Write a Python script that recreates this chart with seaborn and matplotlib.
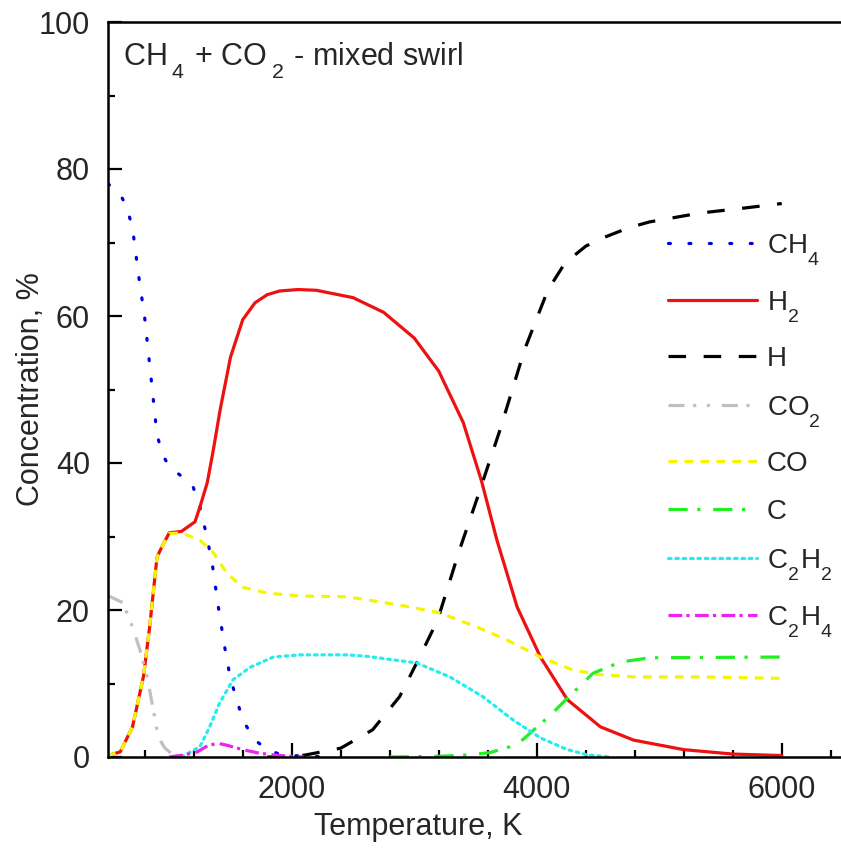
import matplotlib
matplotlib.use("Agg")
import matplotlib.pyplot as plt
from matplotlib.ticker import MultipleLocator
import seaborn as sns

# --- species concentration profiles vs temperature ---
t_ch4 = [500, 520, 600, 650, 700, 750, 800, 850, 900, 950, 1000, 1100, 1190, 1250, 1300,
         1350, 1400, 1450, 1500, 1550, 1600, 1700, 1800, 1900, 2000, 2300]
c_ch4 = [78.0, 77.7, 76.5, 75.0, 72.0, 65.5, 59.7, 51.8, 43.8, 41.0, 39.5, 38.2, 37.0, 34.0, 30.5,
         26.4, 20.5, 15.2, 10.6, 7.9, 5.0, 2.3, 1.0, 0.4, 0.2, 0.0]

t_h2 = [500, 520, 600, 700, 790, 840, 900, 940, 1000, 1100, 1210, 1250, 1310, 1360, 1415, 1500,
        1600, 1700, 1800, 1900, 2050, 2200, 2500, 2750, 3000, 3200, 3400, 3550, 3675, 3840,
        4030, 4250, 4520, 4790, 5200, 5600, 6000]
c_h2 = [0.0, 0.3, 0.7, 4.1, 11.0, 17.7, 27.2, 28.6, 30.5, 30.7, 32.0, 34.0, 37.3, 41.8, 47.2, 54.4,
        59.5, 61.8, 62.9, 63.4, 63.6, 63.5, 62.5, 60.5, 57.0, 52.5, 45.5, 37.5, 29.5, 20.4,
        13.6, 7.8, 4.1, 2.3, 1.0, 0.4, 0.2]

t_h = [1800, 2000, 2120, 2400, 2660, 2880, 3020, 3190, 3370, 3520, 3700, 3900, 4090, 4230, 4400,
       4520, 4750, 4920, 5330, 5700, 6000]
c_h = [0.0, 0.0, 0.3, 1.2, 3.7, 8.2, 12.8, 18.6, 28.2, 35.5, 44.5, 55.4, 63.5, 67.2, 69.5,
       70.5, 72.0, 72.8, 74.0, 74.7, 75.3]

t_co2 = [500, 520, 620, 700, 760, 820, 870, 910, 965, 1030, 1150]
c_co2 = [21.9, 21.8, 21.0, 17.7, 14.6, 10.9, 6.4, 2.7, 1.2, 0.3, 0.0]

t_co = [500, 520, 600, 700, 790, 840, 900, 940, 1000, 1100, 1250, 1360, 1470, 1600, 1800, 2070,
        2450, 2610, 2970, 3210, 3510, 3760, 4030, 4300, 4520, 4790, 5330, 6000]
c_co = [0.0, 0.3, 0.7, 4.1, 11.0, 17.7, 27.2, 28.6, 30.4, 30.5, 29.5, 27.8, 25.0, 23.1, 22.3, 21.9,
        21.8, 21.4, 20.4, 19.6, 17.7, 15.9, 13.6, 11.8, 11.2, 10.9, 10.9, 10.7]

t_c = [2800, 3210, 3450, 3620, 3780, 3890, 3970, 4100, 4250, 4460, 4680, 4920, 6000]
c_c = [0.0, 0.1, 0.3, 0.6, 1.4, 2.4, 3.6, 5.5, 8.0, 11.4, 12.9, 13.5, 13.6]

t_c2h2 = [1100, 1250, 1330, 1410, 1520, 1660, 1850, 2070, 2450, 2610, 3020, 3290, 3560, 3810,
          4030, 4250, 4410, 4600]
c_c2h2 = [0.0, 1.4, 4.1, 7.3, 10.5, 12.2, 13.6, 13.9, 13.9, 13.7, 12.8, 10.9, 8.2, 5.0,
          2.6, 1.0, 0.3, 0.0]

t_c2h4 = [1000, 1130, 1230, 1300, 1390, 1470, 1600, 1740, 1900, 2100]
c_c2h4 = [0.0, 0.3, 0.7, 1.4, 1.9, 1.6, 1.0, 0.5, 0.2, 0.0]

labels = [r"CH$_4$", r"H$_2$", "H", r"CO$_2$", "CO", "C", r"C$_2$H$_2$", r"C$_2$H$_4$"]
title = r"CH$\,{}_4$ + CO$\,{}_2$ - mixed swirl"
series = [(t_ch4, c_ch4), (t_h2, c_h2), (t_h, c_h), (t_co2, c_co2),
          (t_co, c_co), (t_c, c_c), (t_c2h2, c_c2h2), (t_c2h4, c_c2h4)]
colors = ["#0000dd", "#ee1111", "#000000", "#c0c0c0",
          "#f5f500", "#22ee22", "#22eeee", "#ee22ee"]
styles = [(0, (0.6, 5.8)), "-", (0, (5.5, 5.5)), (0, (5, 2.7, 1, 3.3, 1, 3.7)),
          (0, (2.7, 2.3)), (0, (6, 3, 1, 4)), (0, (0.8, 1.5)), (0, (4.3, 1.3, 1, 1.7))]
caps = ["round", "butt", "butt", "butt", "butt", "butt", "round", "butt"]

# deeper chemical-formula subscripts
try:
    from matplotlib import _mathtext
    _mathtext.FontConstantsBase.sub1 = 0.8
    _mathtext.FontConstantsBase.script_space = 0.15
except Exception:
    pass

sns.set_style("ticks")
plt.rcParams["font.family"] = ["Liberation Sans", "DejaVu Sans"]
plt.rcParams["mathtext.fontset"] = "custom"
plt.rcParams["mathtext.rm"] = "Liberation Sans"
plt.rcParams["mathtext.it"] = "Liberation Sans:italic"
plt.rcParams["mathtext.bf"] = "Liberation Sans:bold"

fig = plt.figure(figsize=(8.41, 8.5), dpi=100)
ax = fig.add_axes([108 / 841, 93 / 850, 735 / 841, 735 / 850])

for (tx, cy), lab, col, ls, cap in zip(series, labels, colors, styles, caps):
    sns.lineplot(x=tx, y=cy, ax=ax, color=col, linestyle=ls, linewidth=2.3,
                 label=lab, dash_capstyle=cap, sort=False)

ax.set_xlim(500, 6500)
ax.set_ylim(0, 100)
ax.xaxis.set_major_locator(MultipleLocator(2000))
ax.xaxis.set_minor_locator(MultipleLocator(400))
ax.yaxis.set_major_locator(MultipleLocator(20))
ax.yaxis.set_minor_locator(MultipleLocator(10))
ax.tick_params(which="both", direction="in", width=1.6, color="black",
               labelsize=22, pad=13, top=False, right=False)
ax.tick_params(which="major", length=10)
ax.tick_params(which="minor", length=5)
for side in ["left", "bottom", "top"]:
    ax.spines[side].set_linewidth(1.8)
    ax.spines[side].set_color("black")
ax.spines["right"].set_visible(False)

ax.set_xlabel("Temperature, K", fontsize=22)
ax.set_ylabel("Concentration, %", fontsize=22)
ax.xaxis.set_label_coords((418 - 108) / 735, -0.075)
ax.yaxis.set_label_coords(-0.085, 0.5)

fig.text(123 / 841, 1 - 65 / 850, title, fontsize=22, ha="left", va="baseline")

ax.legend(loc="upper left", bbox_to_anchor=(668 / 841, 1 - 232 / 850),
          bbox_transform=fig.transFigure, frameon=False, borderpad=0,
          borderaxespad=0, handlelength=3.2, handletextpad=0.36,
          labelspacing=0.79, fontsize=20)

fig.savefig("out.png", dpi=100)
